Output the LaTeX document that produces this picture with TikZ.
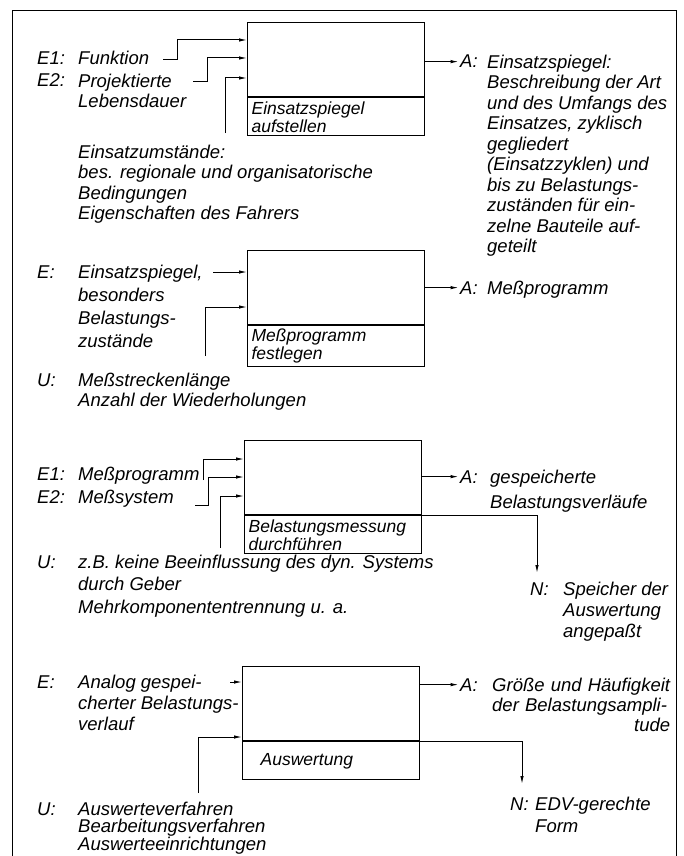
\documentclass[tikz,border=0pt]{standalone}
\usepackage{fontspec}
\setmainfont{Liberation Sans}
\usetikzlibrary{positioning,arrows.meta}

\begin{document}
\begin{tikzpicture}[
    x=1pt, y=-1pt,
    blk/.style={draw, line width=1.2pt, minimum width=177pt, minimum height=74pt, anchor=north west, inner sep=0pt},
    lbl/.style={draw, line width=1.2pt, minimum width=177pt, minimum height=38pt, text width=169pt, align=left, inner sep=3pt, font=\fontsize{17.5}{18}\selectfont\itshape},
    key/.style={anchor=base west, inner sep=0pt, font=\fontsize{18.5}{20.5}\selectfont\itshape},
    txt/.style={anchor=base west, inner sep=0pt, align=left, font=\fontsize{18.5}{20.5}\selectfont\itshape},
    inarrow/.style={-{Latex[length=8pt,width=3.5pt]}, line width=1pt},
    outarrow/.style={-{Latex[length=8pt,width=3.5pt]}, line width=1pt, shorten >=1.5pt}
]
\useasboundingbox (0,0) rectangle (684,856);
% frame, open at the bottom
\draw[line width=1pt] (12,856) -- (12,11) -- (676,11) -- (676,856);

% Einsatzspiegel aufstellen
% (multi-line texts sit on the baseline of their last line)
\node[blk] (box1) at (247,22) {};
\node[lbl, below=0pt of box1] (lbl1) {Einsatzspiegel\\aufstellen};
\node[key] (k1e1) at (37,65) {E1:};
\node[txt] (t1e1) at (78,65) {Funktion};
\node[key] (k1e2) at (37,87) {E2:};
\node[txt] (t1e2) at (78,107.5) {Projektierte\\Lebensdauer};
\node[txt] (t1u) at (78,219.5) {Einsatzumstände:\\bes. regionale und organisatorische\\Bedingungen\\Eigenschaften des Fahrers};
\node[key] (k1a) at (460,68) {A:};
\node[txt] (t1a) at (487,252.5) {Einsatzspiegel:\\Beschreibung der Art\\und des Umfangs des\\Einsatzes, zyklisch\\gegliedert\\(Einsatzzyklen) und\\bis zu Belastungs-\\zuständen für ein-\\zelne Bauteile auf-\\geteilt};
\coordinate (s1e1) at (163,60);
\coordinate (s1e2) at (193,82);
\coordinate (s1u) at (225,133);
\draw[inarrow] (s1e1) -- ++(14,0) |- (box1.west |- 0,40);
\draw[inarrow] (s1e2) -- ++(14,0) |- (box1.west |- 0,58);
\draw[inarrow] (s1u) |- (box1.west |- 0,78);
\draw[outarrow] (box1.east |- k1a.west) -- (k1a.west);

% Meßprogramm festlegen
\node[blk] (box2) at (247,250) {};
\node[lbl, below=0pt of box2] (lbl2) {Meßprogramm\\festlegen};
\node[key] (k2e) at (37,278) {E:};
\node[txt, font=\fontsize{18.5}{23}\selectfont\itshape] (t2e) at (78,347) {Einsatzspiegel,\\besonders\\Belastungs-\\zustände};
\node[key] (k2u) at (37,386) {U:};
\node[txt, font=\fontsize{18.5}{20}\selectfont\itshape] (t2u) at (78,406) {Meßstreckenlänge\\Anzahl der Wiederholungen};
\node[key] (k2a) at (460,294) {A:};
\node[txt] (t2a) at (487,294) {Meßprogramm};
\coordinate (s2e) at (213,272);
\coordinate (s2u) at (205,356);
\draw[inarrow] (s2e) -- (box2.west |- s2e);
\draw[inarrow] (s2u) |- (box2.west |- 0,307);
\draw[outarrow] (box2.east |- k2a.west) -- (k2a.west);

% Belastungsmessung durchführen
\node[blk] (box3) at (244,440) {};
\node[lbl, below=0pt of box3] (lbl3) {Belastungsmessung\\durchführen};
\node[key] (k3e1) at (37,480) {E1:};
\node[txt] (t3e1) at (78,480) {Meßprogramm};
\node[key] (k3e2) at (37,503) {E2:};
\node[txt] (t3e2) at (78,503) {Meßsystem};
\node[key] (k3u) at (37,568) {U:};
\node[txt, font=\fontsize{18.5}{22.5}\selectfont\itshape] (t3u) at (78,613) {z.B. keine Beeinflussung des dyn. Systems\\durch Geber\\Mehrkomponententrennung u. a.};
\node[key] (k3a) at (460,483) {A:};
\node[txt, font=\fontsize{18.5}{25}\selectfont\itshape] (t3a) at (490,508) {gespeicherte\\Belastungsverläufe};
\node[key] (k3n) at (530,595) {N:};
\node[txt, font=\fontsize{18.5}{21}\selectfont\itshape] (t3n) at (563,637) {Speicher der\\Auswertung\\angepaßt};
\coordinate (s3e1) at (203,480);
\coordinate (s3e2) at (195,505);
\coordinate (s3u) at (220,548);
\coordinate (n3) at (537,573);
\draw[inarrow] (s3e1) |- (box3.west |- 0,459);
\draw[inarrow] (s3e2) -- ++(13,0) |- (box3.west |- 0,477);
\draw[inarrow] (s3u) |- (box3.west |- 0,496);
\draw[outarrow] (box3.east |- k3a.west) -- (k3a.west);
\draw[inarrow] (lbl3.north east) -| (n3);

% Auswertung
\node[blk] (box4) at (242,666) {};
\node[lbl, below=0pt of box4] (lbl4) {\hspace*{14pt}Auswertung};
\node[key] (k4e) at (37,688) {E:};
\node[txt, font=\fontsize{18.5}{21}\selectfont\itshape] (t4e) at (78,730) {Analog gespei-\\cherter Belastungs-\\verlauf};
\node[key] (k4u) at (37,815) {U:};
\node[txt, font=\fontsize{18.5}{17.5}\selectfont\itshape] (t4u) at (78,850) {Auswerteverfahren\\Bearbeitungsverfahren\\Auswerteeinrichtungen};
\node[key] (k4a) at (460,691) {A:};
\node[txt, text width=178pt, font=\fontsize{18.5}{20}\selectfont\itshape] (t4a) at (492,691) {Größe und Häufigkeit\\der Belastungsampli-\\\hfill tude\hspace*{6pt}};
\node[key] (k4n) at (510,810) {N:};
\node[txt, font=\fontsize{18.5}{22}\selectfont\itshape] (t4n) at (535,832) {EDV-gerechte\\Form};
\coordinate (s4e) at (230,682);
\coordinate (s4u) at (198,793);
\coordinate (n4) at (522,784);
\draw[inarrow] (s4e) -- (box4.west |- s4e);
\draw[inarrow] (s4u) |- (box4.west |- 0,737);
\draw[outarrow] (box4.east |- k4a.west) -- (k4a.west);
\draw[inarrow] (lbl4.north east) -| (n4);
\end{tikzpicture}
\end{document}
